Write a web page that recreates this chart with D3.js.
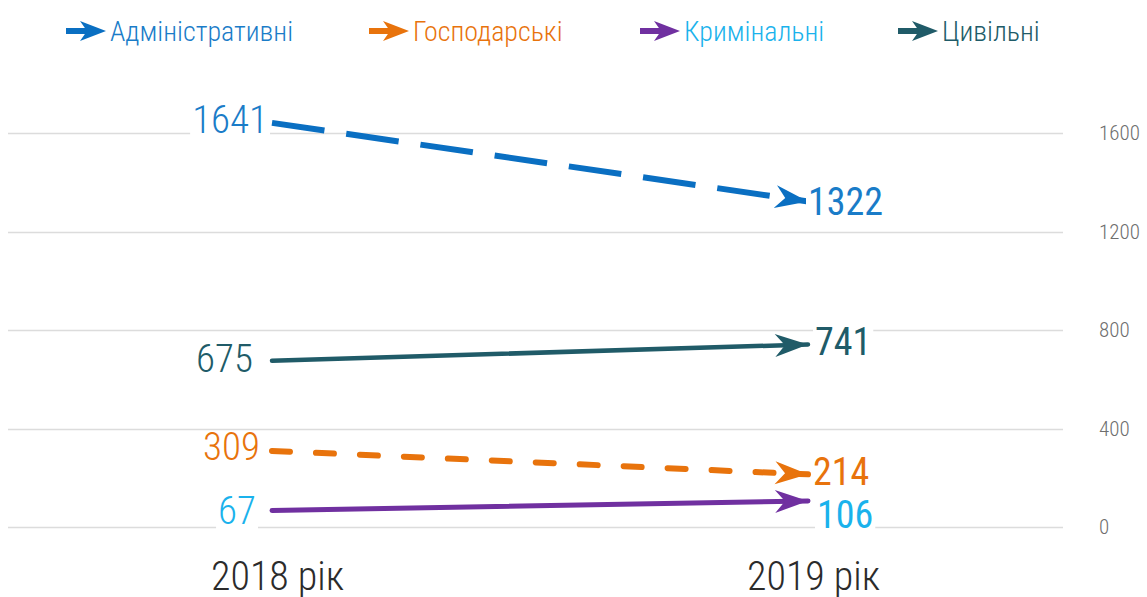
<!DOCTYPE html>
<html>
<head>
<meta charset="utf-8">
<script src="https://cdn.jsdelivr.net/npm/d3@7"></script>
<style>
  html, body { margin: 0; padding: 0; background: #fff; }
  svg { display: block; font-family: "Roboto Condensed", "Liberation Sans Narrow", "DejaVu Sans Condensed", Roboto, sans-serif; }
</style>
</head>
<body>
<svg id="chart" width="1147" height="597"></svg>
<script>
// ---- data ----
const years = ["2018 рік", "2019 рік"];
const seriesNames = ["Адміністративні", "Господарські", "Кримінальні", "Цивільні"];
const admin = [1641, 1322];
const gosp = [309, 214];
const crim = [67, 106];
const civil = [675, 741];
const yTicks = [0, 400, 800, 1200, 1600];

const seriesValues = [admin, gosp, crim, civil];
const lineColors = ["#0a6fc2", "#e8730c", "#7030a0", "#205b68"];
const labelColors = ["#1a7cc8", "#e8730c", "#1ab2ec", "#205b68"];
const dashes = ["53,22", "18,26", null, null];
const widths = [6, 6, 5, 4.5];
const caps = ["butt", "round", "round", "round"];

const FONT = "'Roboto Condensed','Liberation Sans Narrow','DejaVu Sans Condensed',Roboto,sans-serif";
const svg = d3.select("#chart");
const x = d3.scalePoint().domain(years).range([272, 808]);
const y = d3.scaleLinear().domain([0, 1600]).range([527, 133]);

// markers
const defs = svg.append("defs");
lineColors.forEach((c, i) => {
  defs.append("marker")
    .attr("id", "arr" + i)
    .attr("markerUnits", "userSpaceOnUse")
    .attr("viewBox", "-36 -13 38 26")
    .attr("refX", 0).attr("refY", 0)
    .attr("markerWidth", 38).attr("markerHeight", 26)
    .attr("orient", "auto")
    .append("path")
    .attr("d", "M0,0 L-33,-11.5 L-23,0 L-33,11.5 Z")
    .attr("fill", c);
});

// grid
const grid = svg.append("g");
yTicks.forEach(t => {
  grid.append("line")
    .attr("x1", 8).attr("x2", 1063)
    .attr("y1", Math.round(y(t)) + 0.5).attr("y2", Math.round(y(t)) + 0.5)
    .attr("stroke", "#dcdcdc").attr("stroke-width", 1.5);
});

// y axis on right
const yAxis = d3.axisRight(y).tickValues(yTicks).tickSize(0).tickPadding(0).tickFormat(d3.format("d"));
const ya = svg.append("g").attr("transform", "translate(1099,0)").call(yAxis);
ya.select(".domain").remove();
ya.selectAll("text").attr("fill", "#6e6e6e").style("font-size", "21px").style("font-weight", "300")
  .style("font-family", FONT);

// x axis labels
const xAxis = d3.axisBottom(x).tickSize(0).tickPadding(0);
const xa = svg.append("g").attr("transform", "translate(5,0)").call(xAxis);
xa.select(".domain").remove();
xa.selectAll("text").attr("fill", "#2b2b2b").style("font-size", "40px").style("font-weight", "300")
  .attr("dy", "0").attr("y", 590)
  .style("font-family", FONT);

// lines
const line = d3.line().x((d, i) => x(years[i])).y(d => y(d));
const gLines = svg.append("g");
seriesValues.forEach((vals, i) => {
  const p = gLines.append("path")
    .datum(vals)
    .attr("d", line)
    .attr("fill", "none")
    .attr("stroke", lineColors[i])
    .attr("stroke-width", widths[i])
    .attr("stroke-linecap", caps[i])
    .attr("marker-end", "url(#arr" + i + ")");
  if (dashes[i]) p.attr("stroke-dasharray", dashes[i]);
});

// value labels
const labels = svg.append("g");
const startDx = [-4, -12, -16, -19];
const startDy = [-4, -5, 0, -2];
const endDx = [0, 5, 9, 7];
const endDy = [0, -3, 14, -3];
seriesValues.forEach((vals, i) => {
  const ts = labels.append("text")
    .attr("x", x(years[0]) + startDx[i])
    .attr("y", y(vals[0]) + startDy[i])
    .attr("dy", "0.35em")
    .attr("text-anchor", "end")
    .attr("fill", labelColors[i])
    .style("font-size", "39px")
    .style("font-weight", "300")
    .text(vals[0]);
  const bb0 = ts.node().getBBox();
  labels.insert("rect", "text").attr("x", bb0.x - 2).attr("y", bb0.y + 8).attr("width", bb0.width + 4).attr("height", bb0.height - 12).attr("fill", "#fff");
  const te = labels.append("text")
    .attr("x", x(years[1]) + endDx[i])
    .attr("y", y(vals[1]) + endDy[i])
    .attr("dy", "0.35em")
    .attr("text-anchor", "start")
    .attr("fill", labelColors[i])
    .style("font-size", "38px")
    .style("font-weight", "400")
    .text(vals[1]);
  const bb1 = te.node().getBBox();
  labels.insert("rect", "text").attr("x", bb1.x - 2).attr("y", bb1.y + 8).attr("width", bb1.width + 4).attr("height", bb1.height - 12).attr("fill", "#fff");
});

// legend
const legendX = [66, 369, 640, 898];
const legend = svg.append("g");
seriesNames.forEach((n, i) => {
  const g = legend.append("g").attr("transform", `translate(${legendX[i]},31)`);
  g.append("line").attr("x1", 0).attr("x2", 28).attr("y1", 0).attr("y2", 0)
    .attr("stroke", lineColors[i]).attr("stroke-width", 6);
  g.append("path").attr("d", "M40,0 L14,-10 L21,0 L14,10 Z").attr("fill", lineColors[i]);
  g.append("text").attr("x", 44).attr("y", 0).attr("dy", "0.35em")
    .attr("fill", labelColors[i]).style("font-size", "28px").style("font-weight", "300").text(n);
});
</script>
</body>
</html>
